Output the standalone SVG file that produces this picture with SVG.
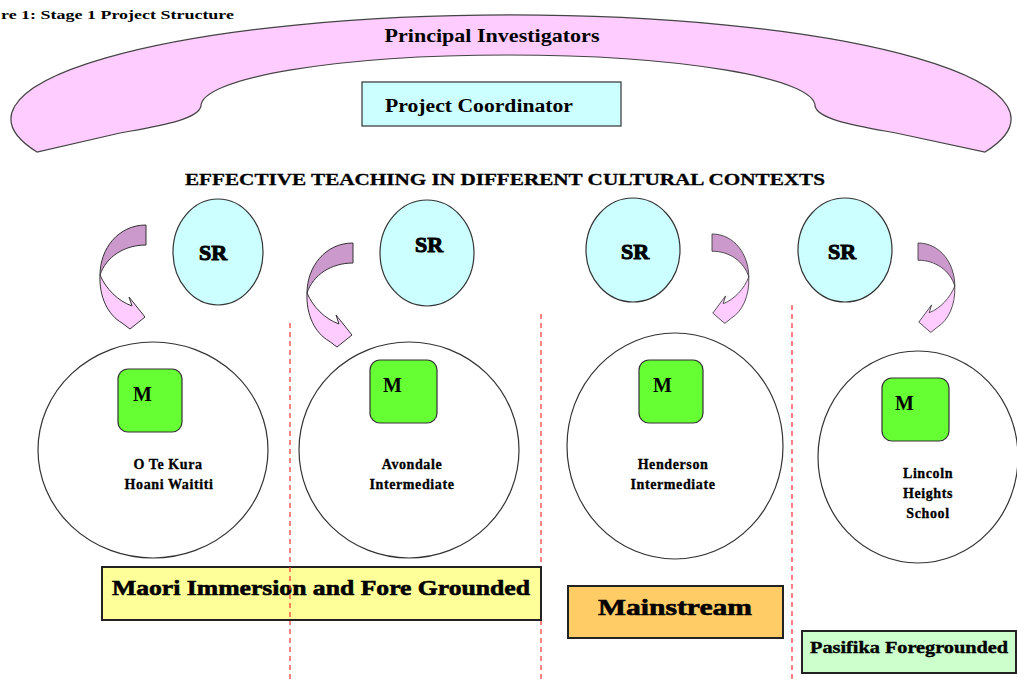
<svg xmlns="http://www.w3.org/2000/svg" xmlns:xlink="http://www.w3.org/1999/xlink" width="1017" height="680" viewBox="0 0 1017 680">
<style>
.t{font-family:"Liberation Serif","DejaVu Serif",serif;font-weight:bold;fill:#000}
.sr{fill:#CCFFFF;stroke:#333;stroke-width:1.2}
.big{fill:#fff;stroke:#333;stroke-width:1.2}
.m{fill:#66FF33;stroke:#333;stroke-width:1.2}
.dash{stroke:#FF3333;stroke-width:1.2;stroke-dasharray:5 4;fill:none}
.box{stroke:#222;stroke-width:2}
.sch{font-size:14px;letter-spacing:0.6px;text-anchor:middle;stroke:#000;stroke-width:0.3}
.mt{font-size:20px}
</style>
<defs>
<g id="carrow">
<path d="M0,0 C-28,0 -46,24 -46,50 C-40,32 -22,20 0,20 Z" fill="#CC99CC" stroke="#333" stroke-width="1"/>
<path d="M-46,50 C-40,64 -28,76 -14,81 L-17,72 L-1,92 L-16,104 L-24,98 C-38,90 -47,72 -46,50 Z" fill="#FFCCFF" stroke="#333" stroke-width="1"/>
</g>
</defs>
<rect width="1017" height="680" fill="#fff"/>
<text class="t" x="1" y="19" font-size="13" textLength="233" lengthAdjust="spacingAndGlyphs">re 1: Stage 1 Project Structure</text>

<g id="pi">
<path d="M37,152 A500,104 0 1 1 985,152 L896,133 C858,126 818,120 815,106 A307,51 0 0 0 201,106 C198,120 158,126 120,133 Z" fill="#FFCCFF" stroke="#444" stroke-width="1.2"/>
<text class="t" x="492" y="42" font-size="19" text-anchor="middle" textLength="215" lengthAdjust="spacingAndGlyphs">Principal Investigators</text>
</g>
<g id="pc">
<rect x="362" y="82" width="259" height="44" fill="#CCFFFF" stroke="#333" stroke-width="1.2"/>
<text class="t" x="385" y="112" font-size="18" textLength="188" lengthAdjust="spacingAndGlyphs">Project Coordinator</text>
</g>
<text class="t" x="505" y="185" font-size="16" text-anchor="middle" textLength="640" lengthAdjust="spacingAndGlyphs" stroke="#000" stroke-width="0.3">EFFECTIVE TEACHING IN DIFFERENT CULTURAL CONTEXTS</text>

<g id="connectors">
<use xlink:href="#carrow" transform="translate(146,225)"/>
<use xlink:href="#carrow" transform="translate(353,243)"/>
<use xlink:href="#carrow" transform="translate(712,234) scale(-0.8,0.86)"/>
<use xlink:href="#carrow" transform="translate(918,243) scale(-0.8,0.86)"/>
<line class="dash" x1="290" y1="323" x2="290" y2="680"/>
<line class="dash" x1="541" y1="314" x2="541" y2="680"/>
<line class="dash" x1="792" y1="305" x2="792" y2="680"/>
</g>

<g id="sr1"><ellipse class="sr" cx="218" cy="252" rx="45" ry="53"/><text class="t" x="213" y="260" font-size="22" text-anchor="middle" stroke="#000" stroke-width="1">SR</text></g>
<g id="sr2"><ellipse class="sr" cx="427" cy="253" rx="47" ry="53"/><text class="t" x="429" y="252" font-size="22" text-anchor="middle" stroke="#000" stroke-width="1">SR</text></g>
<g id="sr3"><ellipse class="sr" cx="633" cy="250" rx="47" ry="52"/><text class="t" x="635" y="259" font-size="22" text-anchor="middle" stroke="#000" stroke-width="1">SR</text></g>
<g id="sr4"><ellipse class="sr" cx="845" cy="250" rx="47" ry="52"/><text class="t" x="842" y="259" font-size="22" text-anchor="middle" stroke="#000" stroke-width="1">SR</text></g>

<g id="school1">
<ellipse class="big" cx="153" cy="450" rx="115" ry="108"/>
<rect class="m" x="118" y="369" width="64" height="63" rx="10"/>
<text class="t mt" x="133" y="401">M</text>
<text class="t sch" x="168" y="469">O Te Kura</text>
<text class="t sch" x="169" y="489">Hoani Waititi</text>
</g>
<g id="school2">
<ellipse class="big" cx="409" cy="450" rx="110" ry="108"/>
<rect class="m" x="370" y="360" width="67" height="63" rx="10"/>
<text class="t mt" x="383" y="392">M</text>
<text class="t sch" x="412" y="469">Avondale</text>
<text class="t sch" x="412" y="489">Intermediate</text>
</g>
<g id="school3">
<ellipse class="big" cx="675" cy="446" rx="108" ry="113"/>
<rect class="m" x="639" y="360" width="64" height="63" rx="10"/>
<text class="t mt" x="653" y="392">M</text>
<text class="t sch" x="673" y="469">Henderson</text>
<text class="t sch" x="673" y="489">Intermediate</text>
</g>
<g id="school4">
<ellipse class="big" cx="918" cy="457" rx="100" ry="106"/>
<rect class="m" x="882" y="378" width="67" height="63" rx="10"/>
<text class="t mt" x="895" y="410">M</text>
<text class="t sch" x="928" y="478">Lincoln</text>
<text class="t sch" x="928" y="498">Heights</text>
<text class="t sch" x="928" y="518">School</text>
</g>

<g id="maori">
<rect class="box" x="102" y="567" width="439" height="53" fill="#FFFF99"/>
<text class="t" x="321" y="595" font-size="22" text-anchor="middle" textLength="418" lengthAdjust="spacingAndGlyphs" stroke="#000" stroke-width="0.6">Maori Immersion and Fore Grounded</text>
</g>
<line class="dash" x1="290" y1="567" x2="290" y2="620"/>
<g id="mainstream">
<rect class="box" x="568" y="586" width="215" height="52" fill="#FFCC66"/>
<text class="t" x="675" y="615" font-size="24" text-anchor="middle" textLength="154" lengthAdjust="spacingAndGlyphs" stroke="#000" stroke-width="0.6">Mainstream</text>
</g>
<g id="pasifika">
<rect class="box" x="802" y="631" width="214" height="42" fill="#CCFFCC"/>
<text class="t" x="909" y="653" font-size="17" text-anchor="middle" textLength="198" lengthAdjust="spacingAndGlyphs" stroke="#000" stroke-width="0.4">Pasifika Foregrounded</text>
</g>
</svg>
